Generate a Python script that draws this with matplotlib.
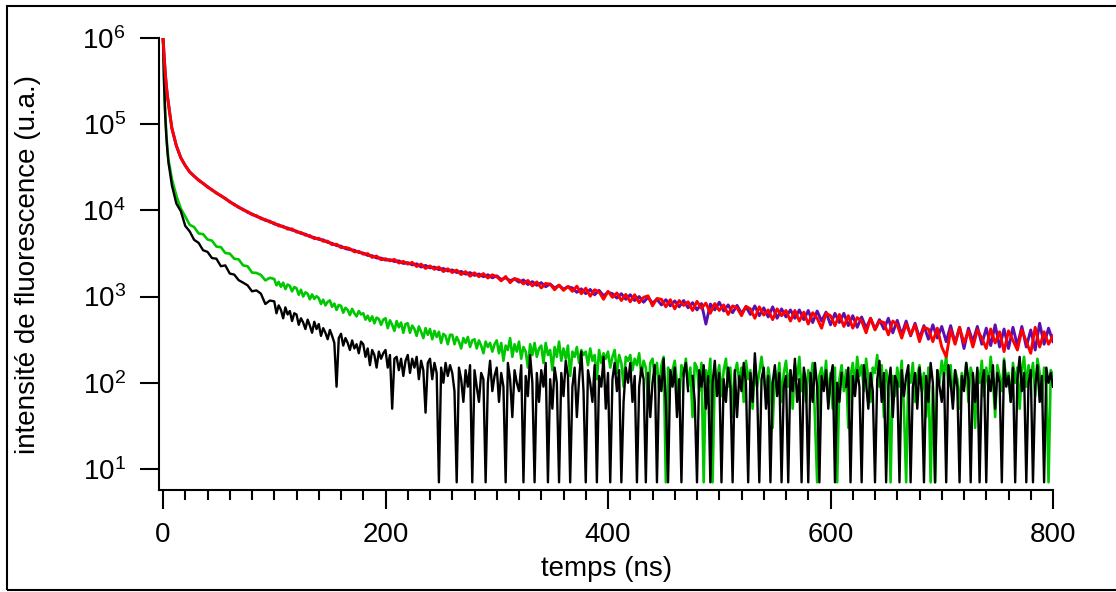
import numpy as np
import matplotlib
matplotlib.use("Agg")
import matplotlib.pyplot as plt
from matplotlib.patches import Rectangle
from matplotlib.ticker import MultipleLocator, LogLocator, NullLocator, LogFormatterSciNotation

plt.rcParams['font.family'] = ['Liberation Sans', 'DejaVu Sans']
plt.rcParams['mathtext.default'] = 'regular'

nan = np.nan

# temps (ns): premiers points a 1 ns, puis tous les 4 ns (rouge / violet)
temps = [0, 1, 2, 3, 4, 5, 6] + list(range(8, 801, 4))
# grille plus fine (2 ns apres 100 ns) pour vert / noir
temps_fin = [0, 1, 2, 3, 4, 5, 6] + list(range(8, 100, 4)) + list(range(100, 801, 2))

rouge = [1000000, 620000, 400000, 280000, 210000, 170000, 135000,
         90000, 56500, 40600, 33200, 27800, 25000, 22300, 20700, 18600, 17400,
         15800, 14900, 13600, 12700, 11600, 11000, 10100, 9700, 8900, 8700,
         8000, 7850, 7300, 7150, 6600, 6550, 6050, 6100, 5600, 5550,
         5150, 5100, 4700, 4750, 4380, 4400, 4000, 4050, 3700, 3720,
         3600, 3300, 3350, 3100, 3150, 2850, 2950, 2680, 2750, 2600,
         2700, 2450, 2560, 2380, 2490, 2230, 2380, 2120, 2270, 2070,
         2200, 1950, 2100, 1900, 2030, 1800, 1950, 1720, 1890, 1700,
         1850, 1640, 1790, 1700, 1520, 1710, 1450, 1620, 1560, 1400,
         1540, 1330, 1480, 1260, 1420, 1390, 1200, 1360, 1180, 1310,
         1150, 1320, 1080, 1250, 1010, 1200, 1130, 930, 1150, 980,
         1100, 900, 1060, 870, 1050, 850, 980, 1020, 780, 950,
         930, 760, 920, 720, 900, 790, 870, 690, 880, 730,
         840, 640, 830, 690, 800, 620, 780, 740, 600, 770,
         720, 560, 760, 610, 700, 540, 720, 600, 690, 520,
         690, 520, 660, 480, 650, 560, 430, 640, 600, 460,
         620, 450, 600, 430, 570, 520, 380, 560, 410, 520,
         500, 360, 520, 470, 330, 480, 360, 470, 300, 440,
         420, 300, 430, 260, 200, 410, 280, 440, 290, 400,
         260, 410, 330, 250, 420, 290, 390, 230, 400, 310,
         240, 410, 300, 220, 440, 260, 390, 280, 350]

violet = [1000000, 610000, 395000, 278000, 212000, 168000, 134000,
          89000, 56000, 41000, 33000, 28000, 24900, 22600, 20500, 18900, 17200,
          16000, 14700, 13800, 12500, 11800, 10800, 10300, 9500, 9100, 8500,
          8200, 7650, 7500, 6950, 6800, 6400, 6250, 5900, 5750, 5400,
          5300, 4950, 4850, 4600, 4550, 4250, 4150, 3900, 3850, 3600,
          3500, 3450, 3250, 3200, 3000, 2980, 2800, 2800, 2650, 2680,
          2550, 2600, 2420, 2480, 2330, 2400, 2200, 2300, 2150, 2200,
          2050, 2120, 1980, 2040, 1900, 1960, 1820, 1900, 1760, 1830,
          1700, 1790, 1650, 1740, 1580, 1650, 1530, 1600, 1470, 1560,
          1380, 1490, 1350, 1450, 1300, 1400, 1260, 1350, 1220, 1300,
          1260, 1120, 1230, 1080, 1210, 1050, 1180, 1020, 1120, 1080,
          960, 1080, 930, 1050, 900, 1000, 860, 980, 840, 930,
          800, 920, 780, 890, 760, 900, 740, 850, 700, 830,
          480, 820, 700, 860, 680, 800, 650, 790, 640, 760,
          620, 780, 600, 740, 580, 760, 560, 720, 580, 700,
          560, 700, 540, 690, 500, 680, 520, 660, 470, 640,
          500, 640, 460, 600, 440, 580, 430, 560, 420, 540,
          420, 560, 380, 530, 360, 520, 350, 490, 330, 460,
          320, 470, 330, 450, 300, 460, 290, 440, 250, 430,
          300, 450, 280, 430, 270, 470, 260, 420, 250, 440,
          270, 450, 260, 410, 240, 490, 280, 430, 300]

vert = [1000000, 300000, 132000, 76000, 51000, 37500, 32500,
        23000, 14800, 10500, 8500, 6800, 6400, 5400, 5300, 4600, 4450,
        3800, 3750, 3200, 3150, 2750, 2700, 2300, 2250, 1900, 1880, 1780, 1540, 1650,
        1600, 1350, 1480, 1300, 1450, 1220, 1380, 1330, 1150, 1290,
        1250, 1050, 1200, 1000, 1120, 1080, 930, 1060, 940, 1010,
        960, 820, 920, 790, 870, 900, 760, 830, 700, 800,
        780, 650, 740, 700, 610, 720, 640, 590, 680, 620,
        640, 540, 600, 520, 590, 490, 570, 550, 470, 540,
        560, 430, 530, 470, 400, 520, 440, 500, 380, 480,
        490, 380, 460, 420, 350, 450, 390, 330, 430, 360,
        420, 320, 400, 340, 390, 290, 370, 350, 280, 360,
        360, 280, 340, 300, 250, 330, 290, 340, 260, 310,
        320, 250, 310, 270, 220, 300, 260, 290, 230, 280,
        310, 220, 290, 180, 270, 240, 330, 200, 280, 230,
        300, 190, 260, 230, 150, 280, 210, 290, 200, 250,
        270, 170, 290, 210, 240, 140, 260, 200, 300, 180,
        250, 190, 270, 120, 230, 200, 260, 170, 240, 210,
        230, 160, 250, 180, 210, 110, 240, 170, 220, 190,
        230, 150, 200, 240, 130, 210, 170, 90, 200, 180,
        210, 140, 190, 160, 220, 120, 180, 150, 60, 170,
        190, 120, 170, 80, 160, 200, 7, 150, 90, 140,
        180, 100, 60, 160, 120, 190, 90, 150, 40, 170,
        150, 80, 170, 7, 140, 100, 190, 7, 130, 110,
        160, 70, 140, 190, 90, 150, 40, 130, 170, 100,
        150, 60, 180, 110, 140, 50, 160, 90, 130, 200,
        120, 70, 150, 100, 30, 140, 90, 170, 60, 130,
        180, 90, 140, 50, 160, 110, 200, 80, 130, 60,
        140, 100, 170, 40, 7, 120, 150, 90, 180, 60,
        130, 50, 150, 7, 110, 160, 80, 140, 30, 120,
        170, 90, 200, 120, 160, 80, 190, 110, 60, 150,
        130, 210, 90, 160, 40, 140, 100, 7, 120, 70,
        150, 90, 180, 50, 7, 130, 100, 170, 60, 120,
        160, 80, 130, 40, 150, 7, 90, 7, 140, 100,
        180, 120, 210, 90, 160, 60, 140, 110, 50, 130,
        90, 170, 60, 150, 120, 30, 140, 100, 180, 70,
        150, 90, 200, 110, 40, 160, 120, 80, 190, 100,
        130, 60, 170, 100, 150, 50, 140, 200, 90, 160,
        110, 170, 70, 190, 130, 60, 150, 100, 7, 140,
        120]

noir = [1000000, 290000, 125000, 72000, 48000, 35000, 29000,
        19500, 12000, 9800, 6600, 5700, 4550, 4200, 3450, 3300, 2800,
        2750, 2250, 2300, 1850, 1800, 1550, 1450, 1350, 1150, 1180, 1080, 820, 900,
        880, 640, 790, 700, 560, 750, 620, 680, 520, 640,
        620, 470, 560, 500, 420, 540, 460, 380, 510, 420,
        480, 350, 430, 380, 320, 410, 350, 290, 90, 330,
        370, 270, 330, 290, 240, 310, 250, 280, 220, 300,
        280, 200, 250, 160, 240, 210, 150, 230, 190, 220,
        240, 150, 210, 50, 190, 200, 140, 190, 120, 180,
        210, 130, 190, 150, 200, 110, 180, 140, 45, 170,
        190, 110, 170, 130, 7, 150, 100, 170, 120, 160,
        130, 80, 7, 150, 110, 60, 140, 90, 160, 7,
        140, 90, 60, 130, 110, 7, 100, 180, 80, 120,
        150, 60, 130, 90, 7, 170, 110, 40, 140, 100,
        80, 160, 7, 120, 70, 210, 100, 7, 130, 60,
        140, 90, 170, 7, 110, 50, 150, 100, 7, 130,
        70, 180, 120, 7, 90, 150, 40, 110, 230, 80,
        7, 140, 100, 60, 160, 7, 120, 90, 200, 50,
        130, 7, 110, 170, 80, 140, 7, 60, 150, 100,
        170, 60, 120, 7, 90, 150, 110, 7, 130, 40,
        100, 160, 7, 120, 80, 190, 60, 7, 140, 90,
        150, 40, 110, 7, 130, 170, 80, nan, 120, 60,
        7, 140, 90, 160, 50, 120, 7, 100, 180, 70,
        130, 7, 110, 60, 150, 90, 7, 140, 40, 120,
        80, 170, 100, 7, 130, 60, 220, 90, 7, 110,
        150, 50, 120, 7, 100, 160, 70, 130, 7, 90,
        120, 7, 140, 80, 190, 60, 110, 7, 150, 100,
        7, 130, 60, 170, 90, 7, 120, 80, 140, 50,
        110, 160, 7, 100, 60, 130, nan, 90, 150, 7,
        120, 70, 140, 90, 7, 160, 100, 50, 130, 80,
        7, 110, 180, 60, 130, 7, 90, 150, 40, 120,
        100, 7, 140, 70, 120, 160, 7, 90, 130, 50,
        150, 80, 7, 120, 60, 170, 100, 7, 140, 90,
        60, 130, 7, 160, 100, 50, 140, 90, 7, 120,
        80, 170, 110, 7, 130, 60, 150, 7, 100, 140,
        7, 120, 80, 160, 50, 130, 100, 7, 180, 90,
        120, 60, 150, 7, 110, 200, 80, 130, 7, 100,
        140, 7, 90, 160, 60, 120, 7, 150, 100, 130,
        90]

fig = plt.figure(figsize=(11.16, 5.92), dpi=100)
ax = fig.add_axes([159 / 1116, 102 / 592, 894 / 1116, 452 / 592])

ax.plot(temps_fin, vert, color='#00c800', lw=1.9)
ax.plot(temps_fin, noir, color='black', lw=1.7)
ax.plot(temps, violet, color='#5a10b0', lw=2.1)
ax.plot(temps, rouge, color='#ff0000', lw=2.1)

ax.set_yscale('log')
ax.set_xlim(-3.6, 800)
ax.set_ylim(5.7, 1e6)

for s in ['top', 'right']:
    ax.spines[s].set_visible(False)
for s in ['left', 'bottom']:
    ax.spines[s].set_linewidth(1.5)

ax.xaxis.set_major_locator(MultipleLocator(200))
ax.xaxis.set_minor_locator(MultipleLocator(20))
ax.yaxis.set_major_locator(LogLocator(base=10, numticks=10))
ax.yaxis.set_major_formatter(LogFormatterSciNotation())
ax.yaxis.set_minor_locator(NullLocator())

ax.tick_params(axis='both', which='major', direction='out', length=14, width=1.5,
               labelsize=20)
ax.tick_params(axis='x', which='major', pad=9)
ax.tick_params(axis='y', which='major', pad=10)
ax.tick_params(axis='x', which='minor', direction='out', length=7, width=1.5)

ax.set_xlabel('temps (ns)', fontsize=20)
ax.set_ylabel('intensité de fluorescence (u.a.)', fontsize=20)
ax.xaxis.set_label_coords(0.501, -0.146)
ax.yaxis.set_label_coords(-0.132, 0.5)

# cadre autour de la figure
fig.patches.append(Rectangle((7 / 1116, 2 / 592), 1.1, 584 / 592, fill=False,
                             lw=1.5, edgecolor='black', transform=fig.transFigure))

fig.savefig('out.png', dpi=100)
